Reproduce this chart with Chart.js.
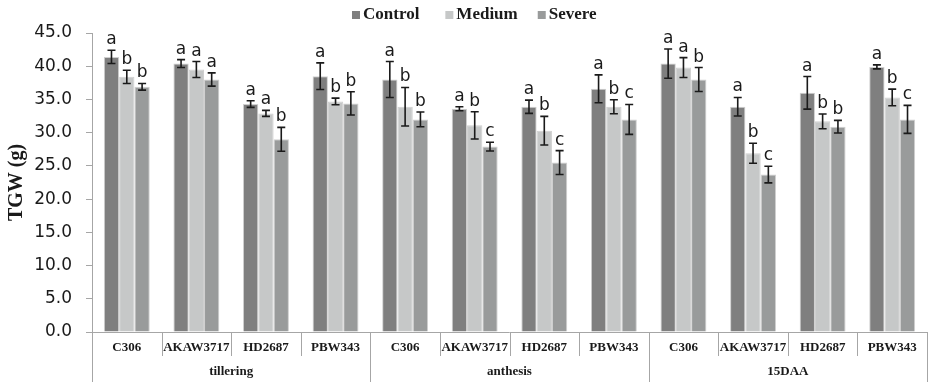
<!DOCTYPE html>
<html>
<head>
<meta charset="utf-8">
<script src="https://cdn.jsdelivr.net/npm/chart.js@4"></script>
<style>
  html, body { margin: 0; padding: 0; background: #fff; }
  #wrap { width: 929px; height: 382px; position: relative; }
</style>
</head>
<body>
<div id="wrap"><canvas id="tgwChart"></canvas></div>
<script>
const varieties = ["C306", "AKAW3717", "HD2687", "PBW343"];
const stages = ["tillering", "anthesis", "15DAA"];
const seriesNames = ["Control", "Medium", "Severe"];
const yTicks = [0, 5, 10, 15, 20, 25, 30, 35, 40, 45];

const control = [41.4, 40.4, 34.3, 38.5, 38.0, 33.6, 33.9, 36.6, 40.4, 33.9, 36.0, 39.9];
const controlErr = [1.0, 0.6, 0.5, 2.0, 2.7, 0.3, 1.0, 2.1, 2.2, 1.4, 2.45, 0.3];
const medium = [38.4, 39.5, 32.9, 34.7, 33.9, 31.1, 30.3, 33.9, 39.8, 26.9, 31.7, 35.3];
const mediumErr = [1.0, 1.2, 0.45, 0.5, 2.9, 2.05, 2.15, 1.05, 1.5, 1.5, 1.1, 1.25];
const severe = [36.9, 38.0, 29.0, 34.4, 32.0, 27.9, 25.5, 32.0, 38.0, 23.7, 30.9, 32.0];
const severeErr = [0.5, 1.0, 1.8, 1.75, 1.1, 0.65, 1.8, 2.25, 1.8, 1.25, 0.95, 2.1];

const controlLetters = ["a", "a", "a", "a", "a", "a", "a", "a", "a", "a", "a", "a"];
const mediumLetters = ["b", "a", "a", "b", "b", "b", "b", "b", "a", "b", "b", "b"];
const severeLetters = ["b", "a", "b", "b", "b", "c", "c", "c", "b", "c", "b", "c"];

const labels = [];
stages.forEach((s) => varieties.forEach((v) => labels.push(v)));

const colors = ["#7f7f7f", "#c6c8c8", "#999b9b"];
const errors = [controlErr, mediumErr, severeErr];
const letters = [controlLetters, mediumLetters, severeLetters];

const axisColor = "#a6a6a6";
const serif = "'Liberation Serif', 'Times New Roman', serif";
const sans = "'DejaVu Sans', sans-serif";

const extrasPlugin = {
  id: "extras",
  afterDatasetsDraw(chart) {
    const ctx = chart.ctx;
    const yScale = chart.scales.y;
    ctx.save();
    chart.data.datasets.forEach((ds, di) => {
      const meta = chart.getDatasetMeta(di);
      meta.data.forEach((bar, i) => {
        const v = ds.data[i];
        const e = errors[di][i];
        const yTop = yScale.getPixelForValue(v + e);
        const yBot = yScale.getPixelForValue(v - e);
        ctx.strokeStyle = "#1a1a1a";
        ctx.lineWidth = 1.6;
        ctx.beginPath();
        ctx.moveTo(bar.x, yTop);
        ctx.lineTo(bar.x, yBot);
        ctx.moveTo(bar.x - 4, yTop);
        ctx.lineTo(bar.x + 4, yTop);
        ctx.moveTo(bar.x - 4, yBot);
        ctx.lineTo(bar.x + 4, yBot);
        ctx.stroke();

        ctx.fillStyle = "#1a1a1a";
        ctx.font = "17px " + sans;
        ctx.textAlign = "center";
        ctx.textBaseline = "alphabetic";
        ctx.fillText(letters[di][i], bar.x, yTop - 6);
      });
    });
    ctx.restore();
  },
  afterDraw(chart) {
    const ctx = chart.ctx;
    const area = chart.chartArea;
    const xScale = chart.scales.x;
    const bottom = chart.height;
    ctx.save();

    // category axis lines and separators
    ctx.strokeStyle = axisColor;
    ctx.lineWidth = 1;
    ctx.beginPath();
    ctx.moveTo(area.left, area.bottom + 0.5);
    ctx.lineTo(area.right, area.bottom + 0.5);
    ctx.moveTo(area.left + 0.5, area.bottom);
    ctx.lineTo(area.left + 0.5, bottom);
    for (let i = 1; i <= labels.length; i++) {
      const x = Math.round(xScale.getPixelForValue(i - 0.5)) + 0.5;
      const end = i % varieties.length === 0 ? bottom : area.bottom + 24;
      ctx.moveTo(x, area.bottom);
      ctx.lineTo(x, end);
    }
    ctx.stroke();

    ctx.fillStyle = "#1a1a1a";
    ctx.textAlign = "center";
    ctx.textBaseline = "middle";
    ctx.font = "bold 13px " + serif;
    labels.forEach((lab, i) => {
      ctx.fillText(lab, xScale.getPixelForValue(i), area.bottom + 16);
    });
    stages.forEach((s, si) => {
      const x0 = xScale.getPixelForValue(si * varieties.length - 0.5);
      const x1 = xScale.getPixelForValue((si + 1) * varieties.length - 0.5);
      ctx.fillText(s, (x0 + x1) / 2, area.bottom + 40);
    });

    // y axis title
    ctx.save();
    ctx.translate(17, (area.top + area.bottom) / 2);
    ctx.rotate(-Math.PI / 2);
    ctx.font = "bold 20px " + serif;
    ctx.fillText("TGW (g)", 0, 0);
    ctx.restore();

    // legend
    ctx.font = "bold 17px " + serif;
    ctx.textAlign = "left";
    ctx.textBaseline = "middle";
    const gaps = [26, 20];
    let x = 352;
    const ly = 15;
    seriesNames.forEach((name, i) => {
      ctx.fillStyle = colors[i];
      ctx.fillRect(x, ly - 4, 8, 8);
      ctx.fillStyle = "#1a1a1a";
      ctx.fillText(name, x + 11, ly);
      x += 11 + ctx.measureText(name).width + (gaps[i] || 0);
    });
    ctx.restore();
  },
};

const ctx = document.getElementById("tgwChart").getContext("2d");
new Chart(ctx, {
  type: "bar",
  data: {
    labels: labels,
    datasets: [
      { label: seriesNames[0], data: control, backgroundColor: colors[0] },
      { label: seriesNames[1], data: medium, backgroundColor: colors[1] },
      { label: seriesNames[2], data: severe, backgroundColor: colors[2] },
    ],
  },
  options: {
    responsive: true,
    maintainAspectRatio: false,
    animation: false,
    layout: { padding: { top: 33, right: 2, bottom: 50, left: 0 } },
    datasets: {
      bar: {
        categoryPercentage: 0.66,
        barPercentage: 1.0,
        borderWidth: 1,
        borderColor: "#cfcfcf",
      },
    },
    plugins: {
      legend: { display: false },
      tooltip: { enabled: false },
    },
    scales: {
      x: { display: false },
      y: {
        min: 0,
        max: 45,
        afterFit(scale) {
          scale.width = 92;
        },
        afterBuildTicks(scale) {
          scale.ticks = yTicks.map((v) => ({ value: v }));
        },
        border: { display: true, color: axisColor, width: 1 },
        grid: {
          drawOnChartArea: false,
          drawTicks: true,
          tickLength: 6,
          color: axisColor,
        },
        ticks: {
          padding: 14,
          color: "#1a1a1a",
          font: { family: "DejaVu Sans", size: 17 },
          callback: (v) => Number(v).toFixed(1),
        },
      },
    },
  },
  plugins: [extrasPlugin],
});
</script>
</body>
</html>
